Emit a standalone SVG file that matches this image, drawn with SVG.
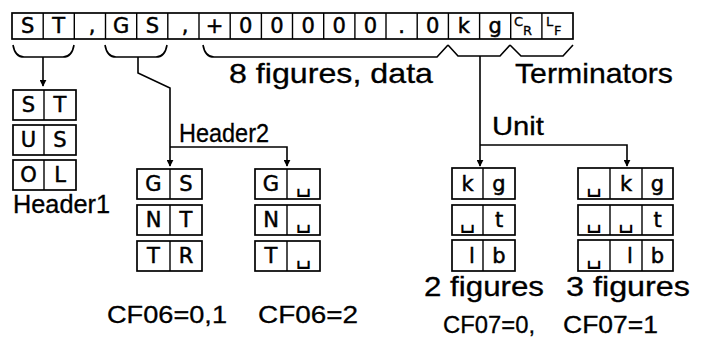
<svg xmlns="http://www.w3.org/2000/svg" width="706" height="346" viewBox="0 0 706 346">
<style>
.box{fill:#fff;stroke:#000;stroke-width:1.7}
.dv{stroke:#000;stroke-width:1.4}
.ch{font-family:"DejaVu Sans",sans-serif;font-size:21px;text-anchor:middle;fill:#000;stroke:#000;stroke-width:0.5}
.sp{font-size:25px;stroke-width:0}
.sm{font-family:"DejaVu Sans",sans-serif;font-size:13px;fill:#000;stroke:#000;stroke-width:0.3}
.lb{font-family:"Liberation Sans",Arial,sans-serif;fill:#000;stroke:#000;stroke-width:0.3}
.ln{fill:none;stroke:#000;stroke-width:1.6}
</style>
<defs>
<marker id="ah" viewBox="0 0 10 10" refX="9" refY="5" markerWidth="7" markerHeight="7" markerUnits="userSpaceOnUse" orient="auto">
<path d="M0,0 L10,5 L0,10 z" fill="#000"/>
</marker>
</defs>
<rect width="706" height="346" fill="#fff"/>

<g id="record">
<rect class="box" x="12" y="13" width="561" height="26"/>
<g class="dv">
<line x1="43.2" y1="13" x2="43.2" y2="39"/><line x1="74.3" y1="13" x2="74.3" y2="39"/><line x1="105.5" y1="13" x2="105.5" y2="39"/>
<line x1="136.7" y1="13" x2="136.7" y2="39"/><line x1="167.8" y1="13" x2="167.8" y2="39"/><line x1="199" y1="13" x2="199" y2="39"/>
<line x1="230.2" y1="13" x2="230.2" y2="39"/><line x1="261.4" y1="13" x2="261.4" y2="39"/><line x1="292.5" y1="13" x2="292.5" y2="39"/>
<line x1="323.7" y1="13" x2="323.7" y2="39"/><line x1="354.9" y1="13" x2="354.9" y2="39"/><line x1="386" y1="13" x2="386" y2="39"/>
<line x1="417.2" y1="13" x2="417.2" y2="39"/><line x1="448.4" y1="13" x2="448.4" y2="39"/><line x1="479.6" y1="13" x2="479.6" y2="39"/>
<line x1="510.7" y1="13" x2="510.7" y2="39"/><line x1="541.9" y1="13" x2="541.9" y2="39"/>
</g>
<text class="ch" x="27.6" y="33">S</text><text class="ch" x="58.7" y="33">T</text><text class="ch" x="92" y="33">,</text>
<text class="ch" x="121.1" y="33">G</text><text class="ch" x="152.3" y="33">S</text><text class="ch" x="185" y="33">,</text>
<text class="ch" x="214.6" y="33">+</text><text class="ch" x="245.8" y="33">0</text><text class="ch" x="276.9" y="33">0</text>
<text class="ch" x="308.1" y="33">0</text><text class="ch" x="339.3" y="33">0</text><text class="ch" x="370.4" y="33">0</text>
<text class="ch" x="401.6" y="33">.</text><text class="ch" x="432.8" y="33">0</text><text class="ch" x="463.9" y="33">k</text>
<text class="ch" x="495.1" y="33">g</text>
<text class="sm" x="514" y="26">C</text><text class="sm" x="523" y="35" font-size="14">R</text>
<text class="sm" x="546" y="26">L</text><text class="sm" x="554" y="35" font-size="14">F</text>
</g>

<g id="connectors">
<path class="ln" d="M13,45 Q15,57 24,57 H63 Q72,57 74,45"/>
<path class="ln" d="M105,45 Q107,57 116,57 H156 Q165,57 167,45"/>
<path class="ln" d="M203,45 Q205,57 214,57 H437 L448,45"/>
<path class="ln" d="M448,45 L458,56 H500 L510,45"/>
<path class="ln" d="M510,45 L521,56 H563 L573,45"/>
<path class="ln" d="M43,57 V86" marker-end="url(#ah)"/>
<path class="ln" d="M138,57 V73 L170,88 V166" marker-end="url(#ah)"/>
<path class="ln" d="M170,147 H287 V166" marker-end="url(#ah)"/>
<path class="ln" d="M480,56 V166" marker-end="url(#ah)"/>
<path class="ln" d="M480,145 H627 V166" marker-end="url(#ah)"/>
</g>

<g id="label-data"><text class="lb" x="229" y="83" font-size="28" textLength="204" lengthAdjust="spacingAndGlyphs">8 figures, data</text></g>
<g id="label-terminators"><text class="lb" x="515" y="83" font-size="28" textLength="158" lengthAdjust="spacingAndGlyphs">Terminators</text></g>

<g id="header1">
<rect class="box" x="13" y="90" width="63" height="30"/><line class="dv" x1="44" y1="90" x2="44" y2="120"/>
<text class="ch" x="28.5" y="112">S</text><text class="ch" x="60" y="112">T</text>
<rect class="box" x="13" y="125" width="63" height="30"/><line class="dv" x1="44" y1="125" x2="44" y2="155"/>
<text class="ch" x="28.5" y="147">U</text><text class="ch" x="60" y="147">S</text>
<rect class="box" x="13" y="160" width="63" height="30"/><line class="dv" x1="44" y1="160" x2="44" y2="190"/>
<text class="ch" x="28.5" y="182">O</text><text class="ch" x="60" y="182">L</text>
<text class="lb" x="13" y="213" font-size="25" textLength="97" lengthAdjust="spacingAndGlyphs">Header1</text>
</g>

<g id="header2">
<text class="lb" x="179" y="142" font-size="26" textLength="90" lengthAdjust="spacingAndGlyphs">Header2</text>
<g id="header2-a">
<rect class="box" x="137" y="169" width="65" height="30"/><line class="dv" x1="170" y1="169" x2="170" y2="199"/>
<text class="ch" x="153.5" y="191">G</text><text class="ch" x="186" y="191">S</text>
<rect class="box" x="137" y="205" width="65" height="30"/><line class="dv" x1="170" y1="205" x2="170" y2="235"/>
<text class="ch" x="153.5" y="227">N</text><text class="ch" x="186" y="227">T</text>
<rect class="box" x="137" y="241" width="65" height="30"/><line class="dv" x1="170" y1="241" x2="170" y2="271"/>
<text class="ch" x="153.5" y="263">T</text><text class="ch" x="186" y="263">R</text>
<text class="lb" x="107" y="323" font-size="24" textLength="120" lengthAdjust="spacingAndGlyphs">CF06=0,1</text>
</g>
<g id="header2-b">
<rect class="box" x="255" y="169" width="65" height="30"/><line class="dv" x1="287" y1="169" x2="287" y2="199"/>
<text class="ch" x="271" y="191">G</text><text class="ch sp" x="303.5" y="191">␣</text>
<rect class="box" x="255" y="205" width="65" height="30"/><line class="dv" x1="287" y1="205" x2="287" y2="235"/>
<text class="ch" x="271" y="227">N</text><text class="ch sp" x="303.5" y="227">␣</text>
<rect class="box" x="255" y="241" width="65" height="30"/><line class="dv" x1="287" y1="241" x2="287" y2="271"/>
<text class="ch" x="271" y="263">T</text><text class="ch sp" x="303.5" y="263">␣</text>
<text class="lb" x="258" y="323" font-size="24" textLength="100" lengthAdjust="spacingAndGlyphs">CF06=2</text>
</g>
</g>

<g id="unit">
<text class="lb" x="492" y="135" font-size="25" textLength="52" lengthAdjust="spacingAndGlyphs">Unit</text>
<g id="unit-2">
<rect class="box" x="452" y="168" width="63" height="31"/><line class="dv" x1="483" y1="168" x2="483" y2="199"/>
<text class="ch" x="467.5" y="191">k</text><text class="ch" x="499" y="191">g</text>
<rect class="box" x="452" y="205" width="63" height="30"/><line class="dv" x1="483" y1="205" x2="483" y2="235"/>
<text class="ch sp" x="467.5" y="227">␣</text><text class="ch" x="499" y="227">t</text>
<rect class="box" x="452" y="240" width="63" height="31"/><line class="dv" x1="483" y1="240" x2="483" y2="271"/>
<text class="ch" x="472" y="263">l</text><text class="ch" x="499" y="263">b</text>
<text class="lb" x="424" y="296" font-size="27" textLength="120" lengthAdjust="spacingAndGlyphs">2 figures</text>
<text class="lb" x="443" y="333" font-size="24" textLength="92" lengthAdjust="spacingAndGlyphs">CF07=0,</text>
</g>
<g id="unit-3">
<rect class="box" x="578" y="168" width="95" height="31"/><line class="dv" x1="610" y1="168" x2="610" y2="199"/><line class="dv" x1="642" y1="168" x2="642" y2="199"/>
<text class="ch sp" x="594" y="191">␣</text><text class="ch" x="626" y="191">k</text><text class="ch" x="657.5" y="191">g</text>
<rect class="box" x="578" y="205" width="95" height="30"/><line class="dv" x1="610" y1="205" x2="610" y2="235"/><line class="dv" x1="642" y1="205" x2="642" y2="235"/>
<text class="ch sp" x="594" y="227">␣</text><text class="ch sp" x="626" y="227">␣</text><text class="ch" x="657.5" y="227">t</text>
<rect class="box" x="578" y="240" width="95" height="31"/><line class="dv" x1="610" y1="240" x2="610" y2="271"/><line class="dv" x1="642" y1="240" x2="642" y2="271"/>
<text class="ch sp" x="594" y="263">␣</text><text class="ch" x="630" y="263">l</text><text class="ch" x="657.5" y="263">b</text>
<text class="lb" x="566" y="296" font-size="27" textLength="124" lengthAdjust="spacingAndGlyphs">3 figures</text>
<text class="lb" x="563" y="333" font-size="24" textLength="95" lengthAdjust="spacingAndGlyphs">CF07=1</text>
</g>
</g>
</svg>
